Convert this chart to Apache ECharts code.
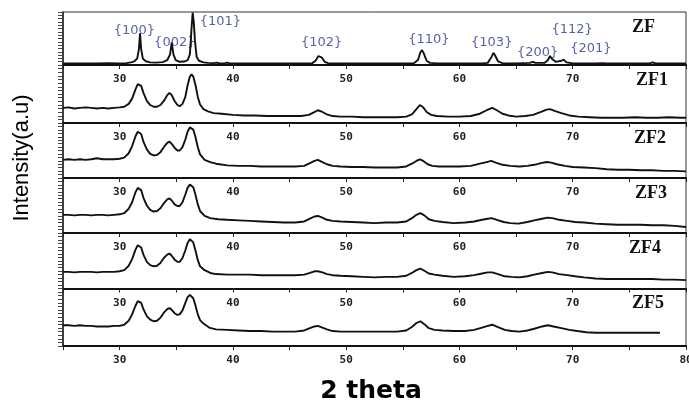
<!DOCTYPE html>
<html>
<head>
<meta charset="utf-8">
<script src="https://cdn.jsdelivr.net/npm/echarts@6/dist/echarts.min.js"></script>
<style>html,body{margin:0;padding:0;background:#fff}#c{width:689px;height:402px}</style>
</head>
<body>
<div id="c"></div>
<script>
// ---- data ----
const panelNames = ['ZF', 'ZF1', 'ZF2', 'ZF3', 'ZF4', 'ZF5'];
const tickLabels = [30, 40, 50, 60, 70, 80];
const xTitle = '2 theta';
const yTitle = 'Intensity(a.u)';

// Miller index annotations on the ZF pattern: [label, 2theta, intensity]
const millerLabels = ['{100}', '{002}', '{101}', '{102}', '{110}', '{103}', '{200}', '{112}', '{201}'];
const millerTheta  = [31.3, 34.87, 38.9, 47.84, 57.3, 62.85, 66.9, 69.95, 71.6];
const millerLevel  = [65, 42, 82, 42, 47, 41.5, 22.6, 67, 30];

const ZF = [[25,3],[26,3],[27,3],[28,3],[29,3.2],[30,3],[30.6,3.5],[31.0,5],[31.3,7],[31.55,12],[31.7,30],[31.8,60],[31.9,30],[32.05,12],[32.3,7],[32.7,5],[33.2,4.5],[33.8,5.5],[34.2,9],[34.45,20],[34.6,42],[34.75,20],[34.95,9],[35.3,6],[35.7,6.5],[36.0,9],[36.2,20],[36.35,70],[36.45,99],[36.55,80],[36.65,45],[36.8,15],[37.0,8],[37.4,5],[37.8,4],[38.3,3.5],[38.6,4.5],[38.8,3],[39.3,3.5],[39.5,4.5],[39.7,3],[40.5,3],[42,3],[44,3],[46,3],[47.0,3.5],[47.3,8],[47.55,17],[47.7,19],[47.85,14],[48.1,6],[48.4,3.5],[49,3],[51,3],[53,3],[55,3],[56.0,3.5],[56.35,10],[56.55,24],[56.7,28],[56.85,22],[57.1,8],[57.4,4],[58,3],[60,3],[62,3],[62.5,4],[62.8,14],[63.0,23],[63.15,18],[63.4,7],[63.8,3.5],[65,3],[66.2,4],[66.5,6],[66.7,4],[67.5,4],[67.8,9],[68.0,17],[68.15,12],[68.5,6],[69.0,8],[69.2,10],[69.45,5],[70,3],[72,3],[72.6,3.5],[73,3],[75,3],[76.8,3],[77.05,5],[77.3,3],[80,3]];

const ZF1 = [[25,26],[25.5,27],[26,25],[26.5,26],[27,27],[27.5,26],[28,25],[28.5,26],[29,25],[29.5,26],[30,27],[30.4,28],[30.8,33],[31.1,42],[31.4,58],[31.6,67],[31.75,69],[31.9,64],[32.1,52],[32.4,38],[32.7,31],[33.0,28],[33.3,28],[33.6,31],[33.9,38],[34.2,48],[34.4,52],[34.6,48],[34.85,38],[35.1,31],[35.3,29],[35.55,33],[35.8,45],[36.0,65],[36.2,80],[36.35,84],[36.5,80],[36.7,65],[36.9,45],[37.1,32],[37.4,24],[37.8,20],[38.3,17],[39,16],[40,14],[41,13],[42,13],[43,12],[44,12],[45,12],[46,12],[46.7,14],[47.1,18],[47.5,22],[47.9,19],[48.3,15],[48.8,12],[49.5,11],[50.5,11],[51.5,10],[52.5,10],[53.5,10],[54.5,10],[55.3,11],[55.8,15],[56.2,24],[56.5,31],[56.8,27],[57.1,19],[57.5,14],[58,12],[59,11],[60,11],[61,12],[61.8,16],[62.4,22],[62.9,26],[63.3,22],[63.8,16],[64.3,13],[65,11],[65.8,12],[66.5,14],[67.2,19],[67.7,23],[68.0,24],[68.4,21],[69,17],[69.7,13],[70.5,11],[71.5,10],[72.5,9],[73.5,9],[74.5,9],[75.5,10],[76.5,9],[77.5,9],[78.5,10],[79.5,9],[80,9]];

const ZF2 = [[25,33],[25.5,34],[26,33],[26.5,34],[27,33],[27.5,34],[28,36],[28.5,34],[29,34],[29.5,34],[30,35],[30.4,37],[30.8,45],[31.1,58],[31.4,76],[31.6,84],[31.75,86],[31.9,80],[32.1,66],[32.4,52],[32.7,44],[33.0,41],[33.3,42],[33.6,47],[33.9,56],[34.2,64],[34.4,66],[34.6,62],[34.85,55],[35.1,50],[35.3,50],[35.55,56],[35.8,70],[36.0,84],[36.2,92],[36.35,93],[36.5,88],[36.7,74],[36.9,56],[37.1,43],[37.5,33],[38,29],[38.5,26],[39.5,23],[40.5,22],[41.5,22],[42.5,21],[43.5,21],[44.5,21],[45.5,21],[46.3,22],[46.8,27],[47.2,31],[47.5,33],[47.9,29],[48.3,25],[48.8,22],[49.5,21],[50.5,20],[51.5,20],[52.5,19],[53.5,19],[54.5,19],[55.3,21],[55.8,26],[56.2,31],[56.5,34],[56.8,31],[57.2,25],[57.6,22],[58.2,21],[59,21],[60,21],[61,22],[61.8,26],[62.4,29],[62.8,31],[63.2,28],[63.8,24],[64.5,22],[65.3,21],[66,22],[66.6,24],[67.2,27],[67.7,29],[68.1,28],[68.6,25],[69.3,22],[70,20],[71,19],[72,18],[73,16],[74,15],[75,15],[76,14],[77,14],[78,13],[79,13],[80,12]];

const ZF3 = [[25,33],[25.5,33],[26,32],[26.5,33],[27,33],[27.5,32],[28,33],[28.5,33],[29,32],[29.5,33],[30,34],[30.4,36],[30.8,44],[31.1,56],[31.4,74],[31.6,82],[31.75,83],[31.9,78],[32.1,64],[32.4,50],[32.7,42],[33.0,39],[33.3,40],[33.6,45],[33.9,54],[34.2,61],[34.4,63],[34.6,59],[34.85,52],[35.1,49],[35.3,49],[35.55,56],[35.8,70],[36.0,82],[36.2,88],[36.35,88],[36.5,83],[36.7,69],[36.9,52],[37.1,40],[37.5,31],[38,27],[38.7,25],[39.5,24],[40.5,23],[41.5,22],[42.5,21],[43.5,20],[44.5,19],[45.5,19],[46.3,21],[46.8,26],[47.2,30],[47.5,31],[47.9,28],[48.3,24],[48.8,22],[49.5,21],[50.5,20],[51.5,19],[52.5,18],[53.5,19],[54.5,19],[55.3,21],[55.8,27],[56.2,33],[56.55,36],[56.9,32],[57.3,25],[57.8,22],[58.5,20],[59.5,18],[60.5,19],[61.3,21],[62,24],[62.5,26],[62.85,27],[63.3,24],[63.9,20],[64.5,18],[65.2,17],[66,20],[66.6,23],[67.3,26],[67.8,28],[68.2,27],[68.8,24],[69.5,22],[70.2,20],[71,19],[72,17],[73,16],[74,15],[75,15],[76,15],[77,14],[78,14],[79,13],[80,11]];

const ZF4 = [[25,30],[25.5,30],[26,29],[26.5,30],[27,30],[27.5,30],[28,29],[28.5,30],[29,30],[29.5,30],[30,31],[30.4,33],[30.8,41],[31.1,53],[31.4,70],[31.6,78],[31.75,79],[31.9,74],[32.1,61],[32.4,48],[32.7,42],[33.0,40],[33.3,41],[33.6,46],[33.9,55],[34.2,61],[34.4,63],[34.6,59],[34.85,52],[35.1,48],[35.3,48],[35.55,55],[35.8,69],[36.0,82],[36.2,89],[36.35,88],[36.5,83],[36.7,68],[36.9,51],[37.1,40],[37.5,33],[38,28],[38.5,26],[39.5,25],[40.5,25],[41.5,25],[42.5,24],[43.5,24],[44.5,24],[45.5,24],[46.3,25],[46.8,28],[47.2,31],[47.5,31],[47.9,29],[48.3,26],[48.8,24],[49.5,23],[50.5,22],[51.5,21],[52.5,20],[53.5,21],[54.5,21],[55.3,23],[55.8,28],[56.2,33],[56.55,36],[56.9,32],[57.3,27],[57.8,25],[58.5,23],[59.5,21],[60.5,22],[61.3,24],[62,27],[62.5,29],[62.9,29],[63.4,26],[64,22],[64.6,21],[65.3,20],[66,22],[66.6,25],[67.3,28],[67.8,30],[68.2,29],[68.8,26],[69.5,24],[70.2,22],[71,20],[72,18],[73,17],[74,17],[75,17],[76,17],[77,17],[78,16],[79,16],[80,15]];

const ZF5 = [[25,36],[25.5,36],[26,35],[26.5,36],[27,35],[27.5,35],[28,34],[28.5,34],[29,34],[29.5,35],[30,35],[30.4,37],[30.8,44],[31.1,55],[31.4,70],[31.6,78],[31.75,79],[31.9,75],[32.1,64],[32.4,52],[32.7,46],[33.0,43],[33.3,44],[33.6,49],[33.9,58],[34.2,64],[34.4,66],[34.6,63],[34.85,57],[35.1,54],[35.3,55],[35.55,62],[35.8,75],[36.0,85],[36.2,89],[36.35,88],[36.5,83],[36.7,70],[36.9,55],[37.1,45],[37.4,39],[37.9,32],[38.5,29],[39.5,28],[40.5,27],[41.5,26],[42.5,26],[43.5,25],[44.5,25],[45.5,25],[46.3,27],[46.8,31],[47.2,34],[47.5,35],[47.9,32],[48.3,29],[48.8,26],[49.5,25],[50.5,25],[51.5,25],[52.5,25],[53.5,25],[54.5,25],[55.3,27],[55.8,33],[56.2,40],[56.55,43],[56.9,38],[57.3,31],[57.8,28],[58.5,27],[59.5,26],[60.5,26],[61.3,28],[62,32],[62.5,35],[62.9,37],[63.4,33],[64,28],[64.6,26],[65.3,25],[66,27],[66.6,30],[67.3,34],[67.8,36],[68.3,34],[69,31],[69.7,28],[70.4,26],[71.2,24],[72,23],[73,23],[74,23],[75,23],[76,23],[77,23],[77.7,23]];

const patterns = [ZF, ZF1, ZF2, ZF3, ZF4, ZF5];

// ---- layout ----
const panelTops    = [12, 65, 123, 178, 233, 288.5];
const panelBottoms = [65, 123, 178, 233, 288.5, 346];
const nameX        = [632, 636, 634, 635, 629, 632];
const leftPx = 63, rightPx = 3;

const chart = echarts.init(document.getElementById('c'), null, {renderer: 'canvas'});

const grids = [], xAxes = [], yAxes = [], series = [], graphics = [];
patterns.forEach((data, i) => {
  const isBottom = i === patterns.length - 1;
  grids.push({
    left: leftPx, right: rightPx, top: panelTops[i],
    height: panelBottoms[i] - panelTops[i],
    containLabel: false, outerBoundsMode: 'none',
    show: true, borderColor: '#333', borderWidth: 1, backgroundColor: 'transparent'
  });
  xAxes.push({
    type: 'value', gridIndex: i, min: 25, max: 80, interval: 5,
    axisLine: {show: true, onZero: false, lineStyle: {color: '#111', width: 2}},
    axisTick: {show: true, inside: false, length: 4, lineStyle: {color: '#222', width: 1}},
    splitLine: {show: false},
    axisLabel: {
      show: true, margin: 9, showMinLabel: true, showMaxLabel: true, hideOverlap: false,
      color: '#222', fontFamily: 'DejaVu Sans Mono', fontWeight: 'bold', fontSize: 11,
      formatter: function (v) {
        if (tickLabels.indexOf(v) < 0) return '';
        if (v === 80 && !isBottom) return '';
        return String(v);
      }
    }
  });
  yAxes.push({
    type: 'value', gridIndex: i, min: 0, max: 100, interval: 6.25,
    axisLine: {show: true, lineStyle: {color: '#222', width: 1.5}},
    axisTick: {show: true, inside: false, length: 5, lineStyle: {color: '#444', width: 1}},
    axisLabel: {show: false}, splitLine: {show: false}
  });
  series.push({
    type: 'line', xAxisIndex: i, yAxisIndex: i, data: data,
    showSymbol: false, symbol: 'none', clip: true, silent: true,
    lineStyle: {color: '#111', width: 1.9}
  });
  graphics.push({
    type: 'text', x: nameX[i], y: panelTops[i] + 15,
    style: {text: panelNames[i], fill: '#111', font: 'bold 18px "Liberation Serif"',
            align: 'left', verticalAlign: 'middle'}
  });
});

// Miller index labels on the top (ZF) panel
series.push({
  type: 'scatter', xAxisIndex: 0, yAxisIndex: 0, symbolSize: 0, silent: true,
  data: millerLabels.map((t, k) => ({name: t, value: [millerTheta[k], millerLevel[k]]})),
  label: {
    show: true, position: 'inside',
    formatter: function (p) { return p.name; },
    color: '#2b3a8f', fontFamily: 'DejaVu Sans', fontSize: 13,
    textShadowColor: 'rgba(230,150,40,0.55)', textShadowBlur: 0, textShadowOffsetX: -1, textShadowOffsetY: 0
  }
});

graphics.push({
  type: 'text', x: 22, y: 158, rotation: Math.PI / 2,
  style: {text: yTitle, fill: '#000', font: '22px "Liberation Sans"', align: 'center', verticalAlign: 'middle'}
});
graphics.push({
  type: 'text', x: 371, y: 391,
  style: {text: xTitle, fill: '#000', font: 'bold 25px "DejaVu Sans"', align: 'center', verticalAlign: 'middle'}
});

chart.setOption({
  animation: false,
  backgroundColor: '#fff',
  grid: grids, xAxis: xAxes, yAxis: yAxes, series: series,
  graphic: graphics
});
</script>
</body>
</html>
